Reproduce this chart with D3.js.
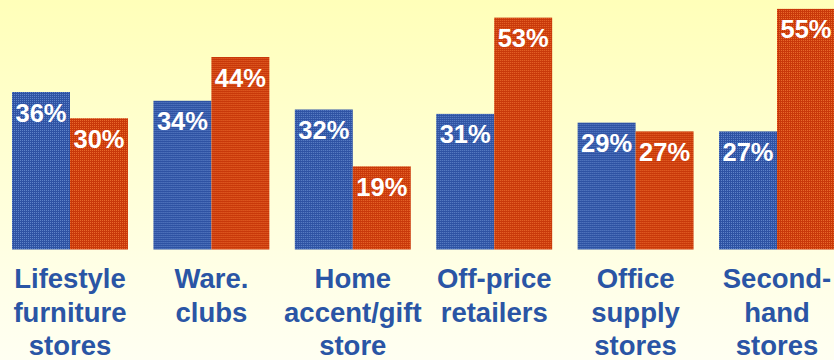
<!DOCTYPE html>
<html>
<head>
<meta charset="utf-8">
<script src="https://cdn.jsdelivr.net/npm/d3@7"></script>
<style>
  html, body { margin: 0; padding: 0; background: #fffff0; }
  svg { display: block; }
</style>
</head>
<body>
<script>
// Store categories (each label split into its display lines)
const categories = [
  ["Lifestyle", "furniture", "stores"],
  ["Ware.", "clubs"],
  ["Home", "accent/gift", "store"],
  ["Off-price", "retailers"],
  ["Office", "supply", "stores"],
  ["Second-", "hand", "stores"]
];
const seriesNames = ["blue", "orange"];
const blueValues = [36, 34, 32, 31, 29, 27];
const orangeValues = [30, 44, 19, 53, 27, 55];

const W = 834, H = 360;
const svg = d3.select("body").append("svg").attr("width", W).attr("height", H);
const defs = svg.append("defs");

// Soft yellow wash fading to cream at the bottom
const grad = defs.append("linearGradient").attr("id", "bg").attr("x1", 0).attr("y1", 0).attr("x2", 0).attr("y2", 1);
grad.append("stop").attr("offset", "0%").attr("stop-color", "#ffffb9");
grad.append("stop").attr("offset", "75%").attr("stop-color", "#ffffe6");
grad.append("stop").attr("offset", "100%").attr("stop-color", "#fffff2");
svg.append("rect").attr("width", W).attr("height", H).attr("fill", "url(#bg)");

// Dotted grid textures for the bars
function dither(id, base, light) {
  const p = defs.append("pattern").attr("id", id).attr("patternUnits", "userSpaceOnUse")
    .attr("width", 2).attr("height", 2);
  p.append("rect").attr("width", 2).attr("height", 2).attr("fill", base);
  p.append("rect").attr("x", 0).attr("y", 0).attr("width", 1).attr("height", 1).attr("fill", light);
}
dither("pat-blue", "#2e52a3", "#5f84c9");
dither("pat-orange", "#c8380a", "#e9692b");
const fills = { blue: "url(#pat-blue)", orange: "url(#pat-orange)" };

// Scales
const baseline = 249.5;
const x0 = d3.scaleBand().domain(d3.range(categories.length))
  .range([-0.7, 847.7]).paddingInner(0.18).paddingOuter(0.09);
const x1 = d3.scaleBand().domain(seriesNames).range([0, x0.bandwidth()]);
const y = d3.scaleLinear().domain([0, 57]).range([baseline, baseline - 57 * 4.375]);

const rows = categories.map((c, i) => ({
  i,
  lines: c,
  vals: [
    { key: "blue", v: blueValues[i] },
    { key: "orange", v: orangeValues[i] }
  ]
}));

const groups = svg.selectAll("g.grp").data(rows).join("g")
  .attr("class", "grp")
  .attr("transform", d => `translate(${x0(d.i)},0)`);

groups.selectAll("rect").data(d => d.vals).join("rect")
  .attr("x", d => x1(d.key))
  .attr("y", d => y(d.v))
  .attr("width", x1.bandwidth())
  .attr("height", d => y(0) - y(d.v))
  .attr("fill", d => fills[d.key]);

groups.selectAll("text.val").data(d => d.vals).join("text")
  .attr("class", "val")
  .attr("x", d => x1(d.key) + x1.bandwidth() / 2)
  .attr("y", d => y(d.v) + 29.5)
  .attr("text-anchor", "middle")
  .attr("fill", "#ffffff")
  .attr("font-family", "Liberation Sans, Arial, sans-serif")
  .attr("font-weight", "bold")
  .attr("font-size", 25.5)
  .text(d => d.v + "%");

// Category labels under each group
const lab = groups.append("text")
  .attr("text-anchor", "middle")
  .attr("fill", "#2a55a5")
  .attr("font-family", "Liberation Sans, Arial, sans-serif")
  .attr("font-weight", "bold")
  .attr("font-size", 27.5);
lab.selectAll("tspan").data(d => d.lines).join("tspan")
  .attr("x", x0.bandwidth() / 2)
  .attr("y", (d, k) => 288 + k * 33.5)
  .text(d => d);
</script>
</body>
</html>
